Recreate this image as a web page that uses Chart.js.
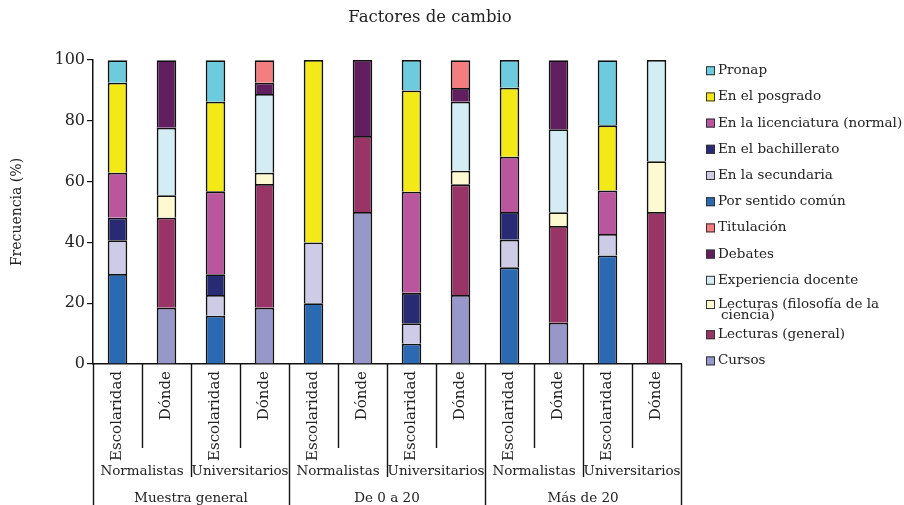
<!DOCTYPE html>
<html>
<head>
<meta charset="utf-8">
<script src="https://cdn.jsdelivr.net/npm/chart.js@4.4.1/dist/chart.umd.min.js"></script>
<style>
  html, body { margin: 0; padding: 0; background: #fff; }
</style>
</head>
<body>
<canvas id="chart" width="904" height="505"></canvas>
<script>
// categories, three levels
const categories = ['Escolaridad', 'Dónde', 'Escolaridad', 'Dónde', 'Escolaridad', 'Dónde',
                    'Escolaridad', 'Dónde', 'Escolaridad', 'Dónde', 'Escolaridad', 'Dónde'];
const groups = ['Normalistas', 'Universitarios', 'Normalistas', 'Universitarios', 'Normalistas', 'Universitarios'];
const samples = ['Muestra general', 'De 0 a 20', 'Más de 20'];
const yTicks = [0, 20, 40, 60, 80, 100];
const chartTitle = 'Factores de cambio';
const yTitle = 'Frecuencia (%)';

// "Dónde" series (bottom to top)
const cursos        = [null, 18.5, null, 18.5, null, 50,   null, 22.7, null, 13.6, null, null];
const lectGeneral   = [null, 29.6, null, 40.7, null, 25,   null, 36.4, null, 31.8, null, 50];
const lectFilosofia = [null, 7.4,  null, 3.7,  null, null, null, 4.5,  null, 4.5,  null, 16.7];
const experiencia   = [null, 22.2, null, 25.9, null, null, null, 22.7, null, 27.3, null, 33.3];
const debates       = [null, 22.2, null, 3.7,  null, 25,   null, 4.5,  null, 22.7, null, null];
const titulacion    = [null, null, null, 7.4,  null, null, null, 9.1,  null, null, null, null];
// "Escolaridad" series (bottom to top)
const sentidoComun  = [29.6, null, 15.9, null, 20, null, 6.7,  null, 31.8, null, 35.7, null];
const secundaria    = [11.1, null, 6.8,  null, 20, null, 6.7,  null, 9.1,  null, 7.1,  null];
const bachillerato  = [7.4,  null, 6.8,  null, null, null, 10, null, 9.1,  null, null, null];
const licenciatura  = [14.8, null, 27.3, null, null, null, 33.3, null, 18.2, null, 14.3, null];
const posgrado      = [29.6, null, 29.5, null, 60, null, 33.3, null, 22.7, null, 21.4, null];
const pronap        = [7.4,  null, 13.6, null, null, null, 10, null, 9.1,  null, 21.4, null];

const seriesNames = ['Cursos', 'Lecturas (general)', ['Lecturas (filosofía de la', 'ciencia)'],
  'Experiencia docente', 'Debates', 'Titulación', 'Por sentido común', 'En la secundaria',
  'En el bachillerato', 'En la licenciatura (normal)', 'En el posgrado', 'Pronap'];
const seriesValues = [cursos, lectGeneral, lectFilosofia, experiencia, debates, titulacion,
  sentidoComun, secundaria, bachillerato, licenciatura, posgrado, pronap];
const seriesColors = ['#9797c9', '#993466', '#fdf9d0', '#d4edf4', '#621f60', '#f47e7f',
  '#2b69b3', '#cecbe7', '#282b74', '#b9569d', '#f2e917', '#6ccbdc'];

const FONT = '"DejaVu Serif", serif';
const TEXT = '#222';
const LINE = '#111';

Chart.defaults.font.family = FONT;
Chart.defaults.color = TEXT;

// title, legend, category groups and separators
const decor = {
  id: 'decor',
  afterDraw(chart) {
    const ctx = chart.ctx;
    const xs = chart.scales.x;
    const area = chart.chartArea;
    const n = categories.length;
    const edge = i => i <= 0 ? area.left : i >= n ? area.right
      : (xs.getPixelForValue(i - 1) + xs.getPixelForValue(i)) / 2;

    ctx.save();
    ctx.strokeStyle = LINE;
    ctx.lineWidth = 1.4;
    for (let i = 0; i <= n; i++) {
      let bottom = area.bottom + 84;
      if (i % 4 === 0) bottom = chart.height;
      else if (i % 2 === 0) bottom = area.bottom + 113;
      const x = Math.round(edge(i)) + 0.5;
      ctx.beginPath();
      ctx.moveTo(x, area.bottom);
      ctx.lineTo(x, bottom);
      ctx.stroke();
    }

    ctx.fillStyle = TEXT;
    ctx.textAlign = 'center';
    ctx.textBaseline = 'middle';
    ctx.font = '13.5px ' + FONT;
    groups.forEach((g, k) => ctx.fillText(g, (edge(2 * k) + edge(2 * k + 2)) / 2, area.bottom + 107));
    samples.forEach((s, k) => ctx.fillText(s, (edge(4 * k) + edge(4 * k + 4)) / 2, area.bottom + 134));

    ctx.font = '16.5px ' + FONT;
    ctx.fillText(chartTitle, 430, 18);

    // legend, top item is the last dataset
    ctx.font = '13.5px ' + FONT;
    ctx.textAlign = 'left';
    const ds = chart.data.datasets;
    let shift = 0;
    for (let k = 0; k < ds.length; k++) {
      const d = ds[ds.length - 1 - k];
      const lines = seriesNames[ds.length - 1 - k];
      const multi = Array.isArray(lines);
      const y = 70.7 + k * 26.2 + shift + (multi ? -2 : 0);
      ctx.fillStyle = d.backgroundColor;
      ctx.fillRect(706, y - 4.5, 9, 9);
      ctx.strokeStyle = '#333';
      ctx.lineWidth = 1;
      ctx.strokeRect(706.5, y - 4, 8, 8);
      ctx.fillStyle = TEXT;
      if (multi) {
        ctx.fillText(lines[0], 718, y);
        ctx.fillText(lines[1], 721, y + 11);
        shift = 2;
      } else {
        ctx.fillText(lines, 718, y);
      }
    }
    ctx.restore();
  }
};

new Chart(document.getElementById('chart'), {
  type: 'bar',
  data: {
    labels: categories,
    datasets: seriesValues.map((vals, i) => ({
      label: Array.isArray(seriesNames[i]) ? seriesNames[i].join(' ') : seriesNames[i],
      data: vals,
      backgroundColor: seriesColors[i],
      borderColor: '#111',
      borderWidth: 1.8,
      barPercentage: 0.4,
      categoryPercentage: 1.0
    }))
  },
  options: {
    responsive: false,
    animation: false,
    layout: { padding: { top: 60, right: 223, left: 0, bottom: 0 } },
    plugins: {
      legend: { display: false },
      title: { display: false },
      tooltip: { enabled: false }
    },
    scales: {
      x: {
        stacked: true,
        grid: { display: false, drawTicks: false },
        border: { color: LINE, width: 1.5 },
        ticks: {
          autoSkip: false,
          minRotation: 90,
          maxRotation: 90,
          padding: 7,
          font: { size: 15 },
          color: TEXT
        },
        afterFit: s => { s.height = 141; }
      },
      y: {
        stacked: true,
        min: 0,
        max: 100,
        afterBuildTicks: s => { s.ticks = yTicks.map(v => ({ value: v })); },
        grid: { drawOnChartArea: false, tickLength: 6, color: LINE, lineWidth: 1.2 },
        border: { color: LINE, width: 1.5 },
        ticks: { padding: 2, font: { size: 16 }, color: TEXT },
        title: {
          display: true,
          text: yTitle,
          font: { size: 14 },
          color: TEXT,
          padding: { top: 9, bottom: 0 }
        },
        afterFit: s => { s.width = 93; }
      }
    }
  },
  plugins: [decor]
});
</script>
</body>
</html>
